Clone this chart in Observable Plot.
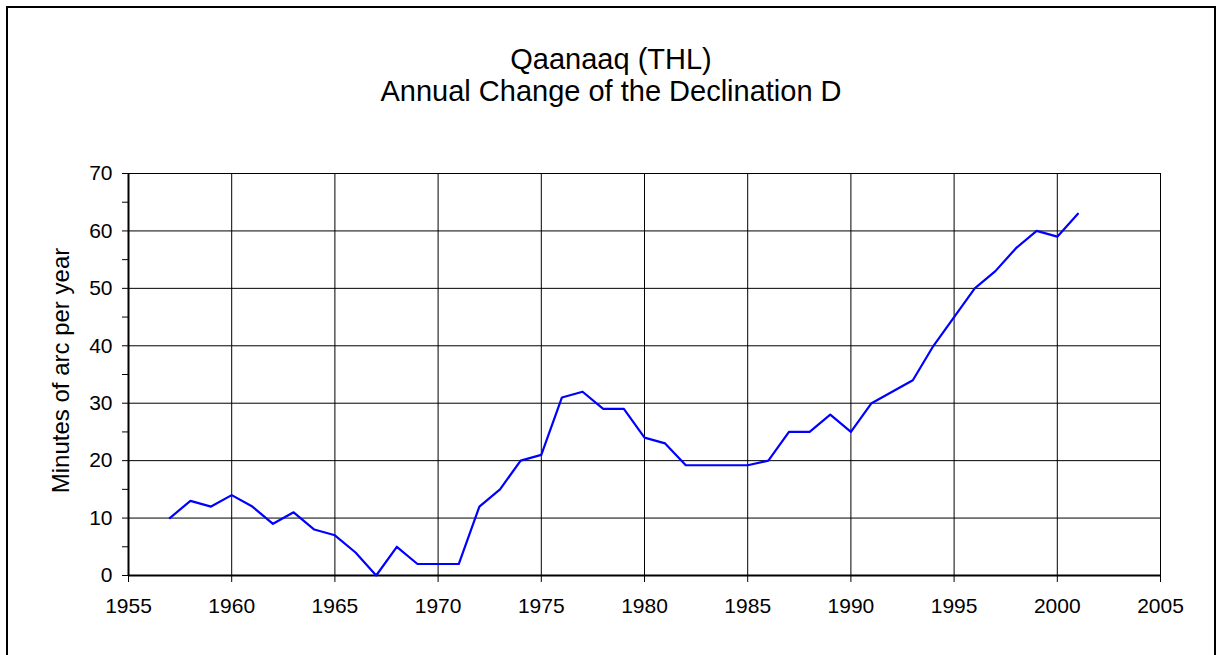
<!DOCTYPE html>
<html>
<head>
<meta charset="utf-8">
<script src="https://cdn.jsdelivr.net/npm/d3@7"></script>
<script src="https://cdn.jsdelivr.net/npm/@observablehq/plot@0.6"></script>
<style>
  html, body { margin: 0; padding: 0; background: #fff; }
  body { width: 1219px; height: 655px; overflow: hidden; position: relative; font-family: "Liberation Sans", Arial, sans-serif; }
  #frame { position: absolute; left: 6px; top: 6px; width: 1210px; height: 720px; border: 2px solid #000; box-sizing: border-box; }
  #title { position: absolute; left: 0; top: 43px; width: 1222px; text-align: center; font-size: 29px; line-height: 32px; color: #000; }
  #chart { position: absolute; left: 0; top: 130px; }
</style>
</head>
<body>
<div id="frame"></div>
<div id="title"><div>Qaanaaq (THL)</div><div>Annual Change of the Declination D</div></div>
<div id="chart"></div>
<script>
const years = [1957,1958,1959,1960,1961,1962,1963,1964,1965,1966,1967,1968,1969,1970,1971,1972,1973,1974,1975,1976,1977,1978,1979,1980,1981,1982,1983,1984,1985,1986,1987,1988,1989,1990,1991,1992,1993,1994,1995,1996,1997,1998,1999,2000,2001];
const values = [10,13,12,14,12,9,11,8,7,4,0,5,2,2,2,12,15,20,21,31,32,29,29,24,23,19.2,19.2,19.2,19.2,20,25,25,28,25,30,32,34,40,45,50,53,57,60,59,63];
const xTicks = [1955,1960,1965,1970,1975,1980,1985,1990,1995,2000,2005];
const yTicks = [0,10,20,30,40,50,60,70];
const yMinorTicks = [5,15,25,35,45,55,65];
const yLabel = "Minutes of arc per year";

const data = years.map((y, i) => ({year: y, value: values[i]}));

const chart = Plot.plot({
  width: 1219,
  height: 500,
  marginTop: 43,
  marginBottom: 55,
  marginLeft: 128,
  marginRight: 59,
  style: {fontFamily: '"Liberation Sans", Arial, sans-serif', fontSize: "21px", color: "#000", background: "transparent", overflow: "visible"},
  x: {domain: [1955, 2005]},
  y: {domain: [0, 70]},
  marks: [
    Plot.ruleY(yTicks, {stroke: "#000", strokeWidth: 1}),
    Plot.ruleX(xTicks, {stroke: "#000", strokeWidth: 1}),
    Plot.ruleX([1955], {stroke: "#000", strokeWidth: 2}),
    Plot.ruleY([0], {stroke: "#000", strokeWidth: 2}),
    Plot.axisY({ticks: yMinorTicks, tickSize: 6, tickFormat: () => "", label: null, stroke: "#000"}),
    Plot.axisY({ticks: yTicks, tickSize: 6, tickPadding: 10, tickFormat: d => String(d), fontSize: 21, label: null, stroke: "#000"}),
    Plot.axisX({ticks: xTicks, tickSize: 7, tickPadding: 16, tickFormat: d => String(d), fontSize: 21, label: null, stroke: "#000"}),
    Plot.text([yLabel], {frameAnchor: "left", textAnchor: "middle", lineAnchor: "middle", dx: -67, dy: -4, rotate: -90, fontSize: 24, fill: "#000"}),
    Plot.line(data, {x: "year", y: "value", stroke: "#0000ff", strokeWidth: 2.2})
  ]
});
document.getElementById("chart").appendChild(chart);
</script>
</body>
</html>
